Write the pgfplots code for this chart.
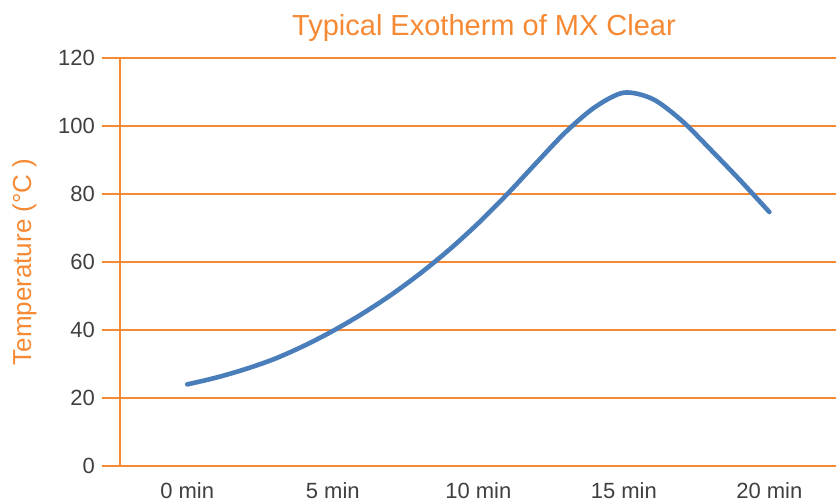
\documentclass[border=0pt]{standalone}
\usepackage{pgfplots}
\pgfplotsset{compat=1.18}
\usepackage{fontspec}
\setmainfont{Liberation Sans}
\definecolor{chartorange}{RGB}{245,137,52}
\definecolor{curveblue}{RGB}{74,126,187}
\definecolor{ticktext}{RGB}{64,64,64}
\begin{document}
\begin{tikzpicture}
\begin{axis}[
name=ax,
scale only axis,
width=358pt, height=204pt,
xmin=-2.31, xmax=22.29,
ymin=0, ymax=120,
axis lines=left,
axis line style={-, draw=chartorange, line width=1pt},
xtick={0,5,10,15,20},
xticklabels={0 min,5 min,10 min,15 min,20 min},
ytick={0,20,40,60,80,100,120},
tick align=outside,
major tick length=9pt,
xtick style={draw=none},
ytick style={draw=chartorange, line width=0.75pt},
ymajorgrids=true,
grid style={draw=chartorange, line width=0.75pt},
ticklabel style={font=\fontsize{11}{13}\selectfont, text=ticktext},
xticklabel style={yshift=4.5pt},
/pgf/number format/assume math mode=true,
title={Typical Exotherm of MX Clear},
title style={font=\fontsize{14.5}{17}\selectfont, text=chartorange, yshift=-1.5pt, xshift=3pt},
ylabel={Temperature (°C )},
ylabel style={font=\fontsize{13}{15}\selectfont, text=chartorange},
ylabel shift=4pt,
clip=false,
]
\addplot[curveblue, line width=2.3pt, smooth, line cap=round] coordinates {
(0,24) (1,26) (2,28.5) (3,31.5) (4,35.3) (5,39.7) (6,44.7) (7,50.3) (8,56.6)
(9,63.6) (10,71.4) (11,80) (12,89.2) (13,98.2) (14,105.5) (15,109.8)
(16,107.9) (17,101.5) (18,92.9) (19,84) (20,74.7)
};
\end{axis}
\pgfresetboundingbox
\path (ax.south west) ++(-60pt,-17.5pt) coordinate (bl);
\path (ax.north east) ++(0,29pt) coordinate (tr);
\path (bl) rectangle (tr);
\end{tikzpicture}
\end{document}
